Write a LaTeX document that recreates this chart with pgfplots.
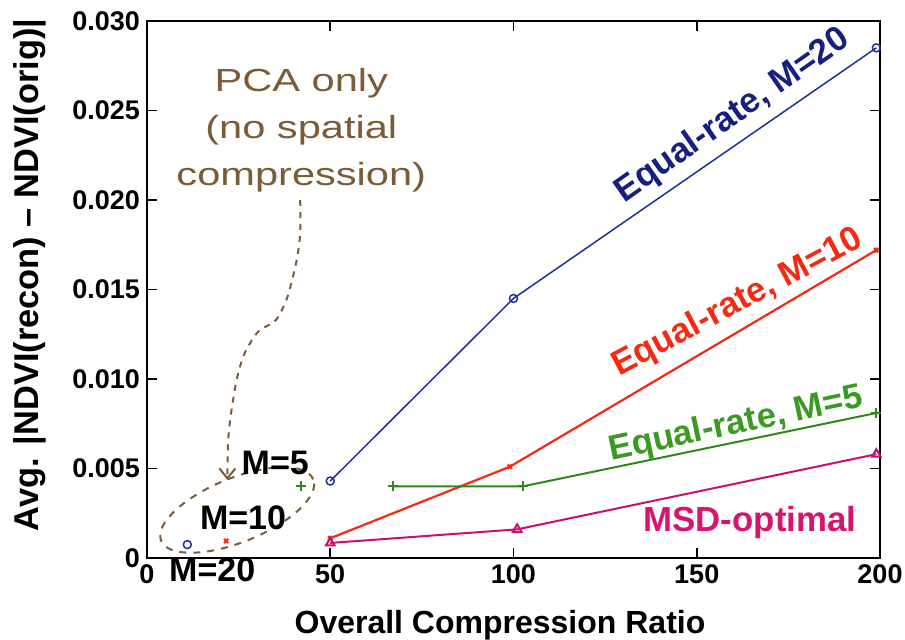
\documentclass[border=0pt]{standalone}
\usepackage{fontspec}
\setmainfont{Liberation Sans}
\newfontfamily\widefont[FakeStretch=1.3]{Liberation Sans}
\usepackage{pgfplots}
\pgfplotsset{compat=1.18}
\usetikzlibrary{arrows.meta,shapes.geometric}
\definecolor{cblue}{HTML}{1F2F9F}
\definecolor{cbluet}{HTML}{16207F}
\definecolor{cred}{HTML}{F52A12}
\definecolor{cgreen}{HTML}{2D8A1A}
\definecolor{cgreent}{HTML}{3B9A22}
\definecolor{cmag}{HTML}{C8106E}
\definecolor{cmagt}{HTML}{D8156E}
\definecolor{cbrown}{HTML}{7A5C38}
\begin{document}
\begin{tikzpicture}
\path[use as bounding box] (0,0) rectangle (452.5pt,320pt);
\begin{axis}[
  at={(73.5pt,41pt)}, anchor=south west,
  scale only axis, width=366.5pt, height=268.5pt,
  xmin=0, xmax=200, ymin=0, ymax=0.030,
  xtick={0,50,100,150,200},
  ytick={0,0.005,0.010,0.015,0.020,0.025,0.030},
  yticklabels={0,0.005,0.010,0.015,0.020,0.025,0.030},
  scaled y ticks=false,
  tick align=inside,
  major tick length=5pt,
  tick style={black, line width=0.8pt},
  axis line style={line width=1pt},
  /pgf/number format/assume math mode=true,
  tick label style={font=\fontsize{13.5}{15}\selectfont\bfseries},
  xlabel={Overall Compression Ratio},
  ylabel={Avg. |NDVI(recon) – NDVI(orig)|},
  xlabel style={font=\fontsize{16}{19}\selectfont\bfseries, at={(axis description cs:0.4816,-0.125)}, anchor=center},
  ylabel style={font=\fontsize{17.2}{20}\selectfont\bfseries, at={(axis description cs:-0.16,0.527)}, anchor=center},
  clip=false,
]
\addplot[cblue, line width=0.75pt, mark=o, mark size=2pt] coordinates {(50,0.0043) (100,0.0145) (199,0.0285)};
\addplot[cblue, only marks, mark=o, mark size=2pt, line width=0.75pt] coordinates {(11,0.00075)};
\addplot[cred, line width=1.1pt, mark=x, mark size=1.5pt] coordinates {(50,0.0011) (99,0.0051) (199,0.0172)};
\addplot[cred, only marks, mark=x, mark size=1.5pt, line width=1pt] coordinates {(21.6,0.00095)};
\addplot[cgreen, line width=1pt, mark=+, mark size=2.5pt] coordinates {(67,0.0040) (102.5,0.0040) (199,0.0081)};
\addplot[cgreen, only marks, mark=+, mark size=2.5pt, line width=1pt] coordinates {(42,0.0040)};
\addplot[cmag, line width=1pt, mark=triangle, mark size=2.5pt] coordinates {(50,0.00084) (101,0.0016) (199,0.0058)};

\draw[cbrown, line width=1pt, dash pattern=on 3pt off 3pt, -{Straight Barb[length=5pt,width=8pt]}]
  plot[smooth] coordinates {(axis cs:41.8,0.0200) (axis cs:41.8,0.01816) (axis cs:41.0,0.01682) (axis cs:39.6,0.01553) (axis cs:38.0,0.01441) (axis cs:35.2,0.01330) (axis cs:30.3,0.01263) (axis cs:26.8,0.01151) (axis cs:24.9,0.01034) (axis cs:23.8,0.00922) (axis cs:22.7,0.00771) (axis cs:22.1,0.00642) (axis cs:21.9,0.00436)};
\node[draw=cbrown, line width=1pt, dash pattern=on 3.5pt off 3.5pt, ellipse, minimum width=82pt, minimum height=32pt, inner sep=0pt, rotate=22] at (axis cs:24.6,0.00268) {};

\node[cbrown, align=center, font=\widefont\fontsize{16}{23.5}\selectfont] at (axis cs:42.1,0.0239) {PCA only\\(no spatial\\compression)};
\node[font=\fontsize{17}{20}\selectfont\bfseries] at (axis cs:35,0.00531) {M=5};
\node[font=\fontsize{17}{20}\selectfont\bfseries] at (axis cs:26.2,0.00223) {M=10};
\node[font=\fontsize{17}{20}\selectfont\bfseries] at (axis cs:17.8,-0.00067) {M=20};

\node[cbluet, rotate=35, font=\fontsize{17.4}{20}\selectfont\bfseries] at (axis cs:159.8,0.02469) {Equal-rate, M=20};
\node[cred, rotate=28, font=\fontsize{17.4}{20}\selectfont\bfseries] at (axis cs:161.2,0.01425) {Equal-rate, M=10};
\node[cgreent, rotate=12, font=\fontsize{17.4}{20}\selectfont\bfseries] at (axis cs:160.7,0.00743) {Equal-rate, M=5};
\node[cmagt, font=\fontsize{17.4}{20}\selectfont\bfseries] at (axis cs:164.5,0.00201) {MSD-optimal};
\end{axis}
\end{tikzpicture}
\end{document}
